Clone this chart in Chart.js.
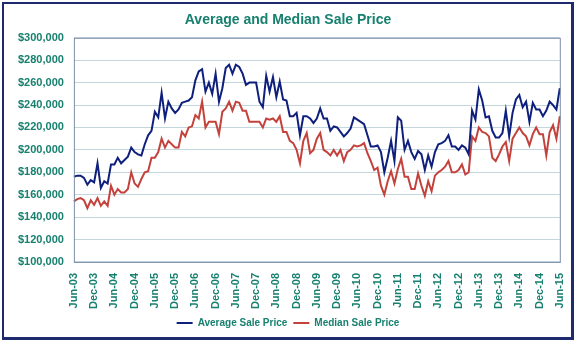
<!DOCTYPE html>
<html>
<head>
<meta charset="utf-8">
<script src="https://cdn.jsdelivr.net/npm/chart.js@4"></script>
<style>
  html, body { margin: 0; padding: 0; background: #fff; }
  #frame { position: absolute; left: 2px; top: 2px; width: 567px; height: 333px; border: 2px solid #1d2b6e; border-right-width: 3px; border-bottom-width: 3px; }
  #wrap { position: absolute; left: 0; top: 0; width: 576px; height: 342px; }
</style>
</head>
<body>
<div id="frame"></div>
<div id="wrap"><canvas id="chart" width="576" height="342"></canvas></div>
<script>
// Monthly sale prices in $ thousands, Jun-03 .. Jun-15
var avgPrice = [
  176,177,177,175,169,173,171,188,166,172,
  170,187,187,193,188,191,194,202,198,196,
  195,205,213,217,234,229,251,228,243,237,
  233,236,242,243,244,247,262,270,272,252,
  260,250,268,243,255,273,276,268,276,274,
  268,258,260,260,260,243,238,266,252,265,
  247,261,245,244,230,230,233,213,230,230,
  228,224,228,237,228,228,217,221,220,216,
  212,215,219,229,227,225,223,213,203,203,
  204,198,180,193,208,190,229,226,200,208,
  198,192,199,196,182,195,185,198,205,206,
  208,213,203,203,200,204,202,196,235,227,
  254,244,229,230,217,211,211,215,235,212,
  233,245,249,238,243,225,242,236,236,230,
  235,243,240,236,255
];
var medianPrice = [
  154,156,157,155,148,155,151,157,150,154,
  150,168,160,165,162,162,165,180,170,167,
  174,180,181,193,193,198,210,202,208,205,
  202,202,216,212,220,221,231,228,243,220,
  225,225,225,214,234,237,243,235,243,242,
  235,235,225,225,225,225,220,228,227,228,
  225,230,216,216,208,206,200,188,208,215,
  197,200,210,215,200,198,195,200,195,200,
  190,198,200,204,203,204,206,197,190,182,
  184,168,160,172,181,170,183,192,176,176,
  165,165,179,168,159,172,163,177,180,182,
  185,190,180,180,182,187,178,180,212,208,
  220,216,215,212,193,190,196,203,207,190,
  210,215,220,215,212,204,214,220,214,214,
  195,216,222,210,230
];
var tickLabels = ['Jun-03','Dec-03','Jun-04','Dec-04','Jun-05','Dec-05','Jun-06','Dec-06',
  'Jun-07','Dec-07','Jun-08','Dec-08','Jun-09','Dec-09','Jun-10','Dec-10','Jun-11',
  'Dec-11','Jun-12','Dec-12','Jun-13','Dec-13','Jun-14','Dec-14','Jun-15'];

// one category per month
var monthNames = ['Jan','Feb','Mar','Apr','May','Jun','Jul','Aug','Sep','Oct','Nov','Dec'];
var months = [];
for (var i = 0; i < avgPrice.length; i++) {
  var m = (5 + i) % 12;
  var y = 3 + Math.floor((5 + i) / 12);
  months.push(monthNames[m] + '-' + (y < 10 ? '0' + y : y));
}

var teal = '#17806f';
var font = 'Liberation Sans, Arial, sans-serif';

// border round the plot area
var plotBorder = {
  id: 'plotBorder',
  afterDatasetsDraw: function(chart) {
    var a = chart.chartArea;
    var ctx = chart.ctx;
    ctx.save();
    ctx.strokeStyle = '#7d8ea6';
    ctx.lineWidth = 1;
    ctx.strokeRect(a.left + 0.5, a.top + 0.5, a.right - a.left, a.bottom - a.top);
    ctx.restore();
  }
};

new Chart(document.getElementById('chart'), {
  type: 'line',
  data: {
    labels: months,
    datasets: [
      {
        label: 'Average Sale Price',
        data: avgPrice.map(function(v) { return v * 1000; }),
        borderColor: '#0f1f7c',
        backgroundColor: '#0f1f7c',
        borderWidth: 2,
        pointRadius: 0,
        tension: 0
      },
      {
        label: 'Median Sale Price',
        data: medianPrice.map(function(v) { return v * 1000; }),
        borderColor: '#c4423c',
        backgroundColor: '#c4423c',
        borderWidth: 2,
        pointRadius: 0,
        tension: 0
      }
    ]
  },
  options: {
    responsive: false,
    animation: false,
    layout: { padding: { top: 8, left: 8, right: 8, bottom: 4 } },
    plugins: {
      title: {
        display: true,
        text: 'Average and Median Sale Price',
        color: teal,
        font: { family: font, size: 14, weight: 'bold' },
        padding: { top: 4, bottom: 9 }
      },
      legend: {
        position: 'bottom',
        labels: {
          color: teal,
          font: { family: font, size: 10, weight: 'bold' },
          usePointStyle: true,
          pointStyle: 'line',
          pointStyleWidth: 16,
          boxHeight: 6,
          padding: 6
        }
      },
      tooltip: { enabled: false }
    },
    scales: {
      x: {
        grid: { display: false },
        border: { display: false },
        ticks: {
          autoSkip: false,
          minRotation: 90,
          maxRotation: 90,
          padding: 3,
          color: teal,
          font: { family: font, size: 11, weight: 'bold' },
          callback: function(val) {
            var lab = this.getLabelForValue(val);
            return tickLabels.indexOf(lab) >= 0 ? lab : '';
          }
        }
      },
      y: {
        min: 100000,
        max: 300000,
        grid: { color: '#c3d6dd', lineWidth: 1, drawTicks: false },
        border: { display: false },
        ticks: {
          stepSize: 20000,
          padding: 10,
          color: teal,
          font: { family: font, size: 11, weight: 'bold' },
          callback: function(v) { return '$' + v.toLocaleString('en-US'); }
        }
      }
    }
  },
  plugins: [plotBorder]
});
</script>
</body>
</html>
